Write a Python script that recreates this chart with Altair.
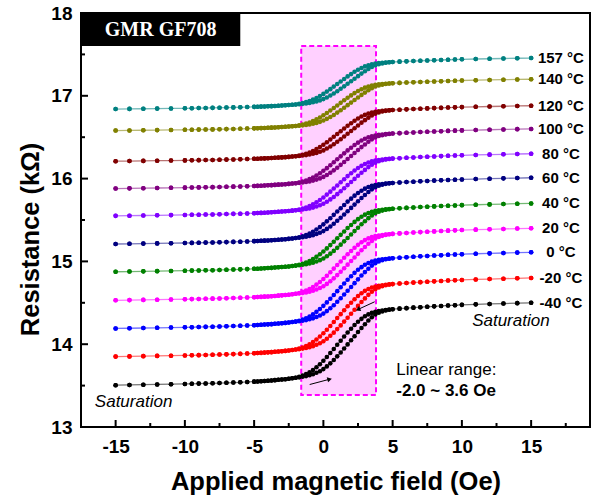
import altair as alt
import pandas as pd

# ---------------- data ----------------
temps = ["157 °C", "140 °C", "120 °C", "100 °C", "80 °C", "60 °C",
         "40 °C", "20 °C", "0 °C", "-20 °C", "-40 °C"]
low = [16.84, 16.58, 16.21, 15.88, 15.55, 15.21, 14.875, 14.53, 14.19, 13.85, 13.505]
high = [17.456, 17.20, 16.88, 16.60, 16.30, 16.01, 15.70, 15.40, 15.11, 14.80, 14.50]
colors = ["#008080", "#808000", "#800000", "#800080", "#8000ff", "#000080",
          "#008000", "#ff00ff", "#0000ff", "#ff0000", "#000000"]

field = [-15, -14, -13, -12, -11, -10, -9.5, -9, -8.5, -8, -7.5, -7, -6.5, -6, -5.5, -5,
         -4.75, -4.5, -4.25, -4, -3.75, -3.5, -3.25, -3, -2.75, -2.5, -2.25, -2,
         -1.75, -1.5, -1.25, -1, -0.75, -0.5, -0.25, 0, 0.25, 0.5, 0.75, 1, 1.25, 1.5,
         1.75, 2, 2.25, 2.5, 2.75, 3, 3.25, 3.5, 3.75, 4, 4.25, 4.5, 4.75,
         5, 5.5, 6, 6.5, 7, 7.5, 8, 8.5, 9, 9.5, 10, 11, 12, 13, 14, 15]

# normalised resistance (0 = value at -15 Oe, 1 = value at +15 Oe), rising sweep
frac_up = [0, .003, .006, .009, .012, .015, .017, .019, .021, .023, .026, .029, .032, .035, .039, .043,
           .045, .048, .051, .054, .057, .061, .065, .069, .073, .078, .084, .09,
           .095, .102, .11, .12, .133, .15, .17, .195, .228, .265, .305, .35, .397, .445,
           .495, .545, .595, .645, .695, .74, .785, .825, .857, .88, .895, .908, .916,
           .922, .929, .935, .941, .947, .952, .957, .962, .967, .971, .975, .981, .986, .991, .996, 1.0]
# falling sweep
frac_down = [0, .003, .006, .009, .012, .015, .017, .019, .021, .023, .026, .029, .032, .035, .039, .043,
             .045, .048, .051, .054, .057, .061, .065, .069, .073, .078, .084, .09,
             .102, .117, .135, .158, .185, .218, .255, .297, .342, .39, .44, .49, .54, .59,
             .64, .685, .73, .77, .805, .836, .86, .878, .891, .900, .907, .913, .918,
             .922, .929, .935, .941, .947, .952, .957, .962, .967, .971, .975, .981, .986, .991, .996, 1.0]

x_major = [-15, -10, -5, 0, 5, 10, 15]
x_minor = [-12.5, -7.5, -2.5, 2.5, 7.5, 12.5, 17.5]
y_major = [13, 14, 15, 16, 17, 18]
y_minor = [13.5, 14.5, 15.5, 16.5, 17.5]

# ---------------- build table ----------------
rows = []
n = len(field)
for t, lo, hi in zip(temps, low, high):
    amp = hi - lo
    for i in range(n):
        rows.append({"temp": t, "H": field[i], "R": lo + amp * frac_up[i], "ord": i})
    for k, i in enumerate(range(n - 1, -1, -1)):
        rows.append({"temp": t, "H": field[i], "R": lo + amp * frac_down[i], "ord": n + k})
df = pd.DataFrame(rows)

lab_df = pd.DataFrame({"temp": temps, "R": high, "H": [17.15] * len(temps)})

W, H = 509, 414
X0, X1, Y0, Y1 = -17.5, 19.25, 13.0, 18.0
FONT = "Liberation Sans"
xsc = alt.Scale(domain=[X0, X1], nice=False, zero=False)
ysc = alt.Scale(domain=[Y0, Y1], nice=False, zero=False)
csc = alt.Scale(domain=temps, range=colors)

XA = alt.Axis(values=x_major, orient="bottom", ticks=False, domain=False, grid=False,
              labelExpr="'' + datum.value",
              labelFont=FONT, labelFontSize=19, labelFontWeight="bold", labelColor="black",
              labelPadding=10, title="Applied magnetic field (Oe)", titleFont=FONT,
              titleFontSize=25.5, titleFontWeight="bold", titleColor="black",
              titleBaseline="alphabetic", titleY=62)
YA = alt.Axis(values=y_major, orient="left", ticks=False, domain=False, grid=False,
              labelExpr="'' + datum.value",
              labelFont=FONT, labelFontSize=19, labelFontWeight="bold", labelColor="black",
              labelPadding=9, title="Resistance (kΩ)", titleFont=FONT,
              titleFontSize=25.5, titleFontWeight="bold", titleColor="black",
              titleBaseline="alphabetic", titleAlign="center", titleAngle=270,
              titleX=-43, titleY=226)


def X(f):
    return alt.X(f, scale=xsc, axis=XA, title="Applied magnetic field (Oe)")


def Y(f):
    return alt.Y(f, scale=ysc, axis=YA, title="Resistance (kΩ)")


# inward tick marks (axis decoration), placed in data units through the scales
ux = (X1 - X0) / W     # data units per pixel, x
uy = (Y1 - Y0) / H     # data units per pixel, y
xt_df = pd.DataFrame({"v": x_major + x_minor,
                      "a": [Y0] * (len(x_major) + len(x_minor)),
                      "b": [Y0 + 7 * uy] * len(x_major) + [Y0 + 4 * uy] * len(x_minor)})
yt_df = pd.DataFrame({"v": y_major + y_minor,
                      "a": [X0] * (len(y_major) + len(y_minor)),
                      "b": [X0 + 7 * ux] * len(y_major) + [X0 + 4 * ux] * len(y_minor)})
xticks = alt.Chart(xt_df).mark_rule(color="black", strokeWidth=2).encode(
    x=X("v:Q"), y=Y("a:Q"), y2="b")
yticks = alt.Chart(yt_df).mark_rule(color="black", strokeWidth=2).encode(
    y=Y("v:Q"), x=X("a:Q"), x2="b")

# pink linear-range box
box_df = pd.DataFrame({"x": [-1.6], "x2": [3.8], "y": [17.6], "y2": [13.385]})
pink = alt.Chart(box_df).mark_rect(fill="#ffd0ff", stroke="#ff00ff", strokeWidth=2,
                                   strokeDash=[5, 3]).encode(
    x=X("x:Q"), x2="x2", y=Y("y:Q"), y2="y2")

# title box
tb_df = pd.DataFrame({"x": [-17.5], "x2": [-6.0], "y": [18.0], "y2": [17.6],
                      "tx": [-11.75], "ty": [17.8], "label": ["GMR GF708"]})
tbox = alt.Chart(tb_df).mark_rect(color="black").encode(
    x=X("x:Q"), x2="x2", y=Y("y:Q"), y2="y2")
ttext = alt.Chart(tb_df).mark_text(font="Liberation Serif", fontSize=20, fontWeight="bold",
                                   color="white", align="center", baseline="middle").encode(
    x=X("tx:Q"), y=Y("ty:Q"), text="label")

lines = alt.Chart(df).mark_line(strokeWidth=1.3, opacity=0.55).encode(
    x=X("H:Q"), y=Y("R:Q"),
    color=alt.Color("temp:N", scale=csc, legend=None),
    detail="temp:N", order="ord:Q")

points = alt.Chart(df).mark_circle(size=21, opacity=1).encode(
    x=X("H:Q"), y=Y("R:Q"),
    color=alt.Color("temp:N", scale=csc, legend=None))

labels = alt.Chart(lab_df).mark_text(font=FONT, fontSize=15, fontWeight="bold", color="black",
                                     align="center", baseline="middle").encode(
    x=X("H:Q"), y=Y("R:Q"), text="temp:N")

ann_df = pd.DataFrame({
    "x": [-16.5, 10.74, 5.26, 5.26],
    "y": [13.30, 14.28, 13.694, 13.43],
    "t": ["Saturation", "Saturation", "Linear range:", "-2.0 ~ 3.6 Oe"],
})
ann_it = alt.Chart(ann_df.iloc[:2]).mark_text(font=FONT, fontSize=17, fontStyle="italic",
                                              align="left", baseline="middle", color="black").encode(
    x=X("x:Q"), y=Y("y:Q"), text="t")
ann_n = alt.Chart(ann_df.iloc[2:3]).mark_text(font=FONT, fontSize=17, align="left",
                                              baseline="middle", color="black").encode(
    x=X("x:Q"), y=Y("y:Q"), text="t")
ann_b = alt.Chart(ann_df.iloc[3:4]).mark_text(font=FONT, fontSize=17, fontWeight="bold", align="left",
                                              baseline="middle", color="black").encode(
    x=X("x:Q"), y=Y("y:Q"), text="t")

arr_df = pd.DataFrame({"x": [-0.99, 3.70], "y": [13.513, 14.512],
                       "x2": [0.45, 2.50], "y2": [13.577, 14.42], "ang": [345.2, 155.4]})
arr_lines = alt.Chart(arr_df).mark_rule(color="black", strokeWidth=1).encode(
    x=X("x:Q"), y=Y("y:Q"), x2="x2", y2="y2")
arr_heads = alt.Chart(arr_df).mark_point(shape="triangle-right", filled=True, color="black",
                                         size=28, opacity=1).encode(
    x=X("x2:Q"), y=Y("y2:Q"), angle=alt.Angle("ang:Q", scale=None))

chart = alt.layer(pink, tbox, ttext, lines, points, labels, ann_it, ann_n, ann_b,
                  arr_lines, arr_heads, xticks, yticks).properties(
    width=W, height=H, autosize="none",
    padding={"left": 81, "top": 13, "right": 5, "bottom": 73},
    background="white").configure_view(stroke="black", strokeWidth=2)

chart.save("out.html", embed_options={"renderer": "svg", "actions": False})
